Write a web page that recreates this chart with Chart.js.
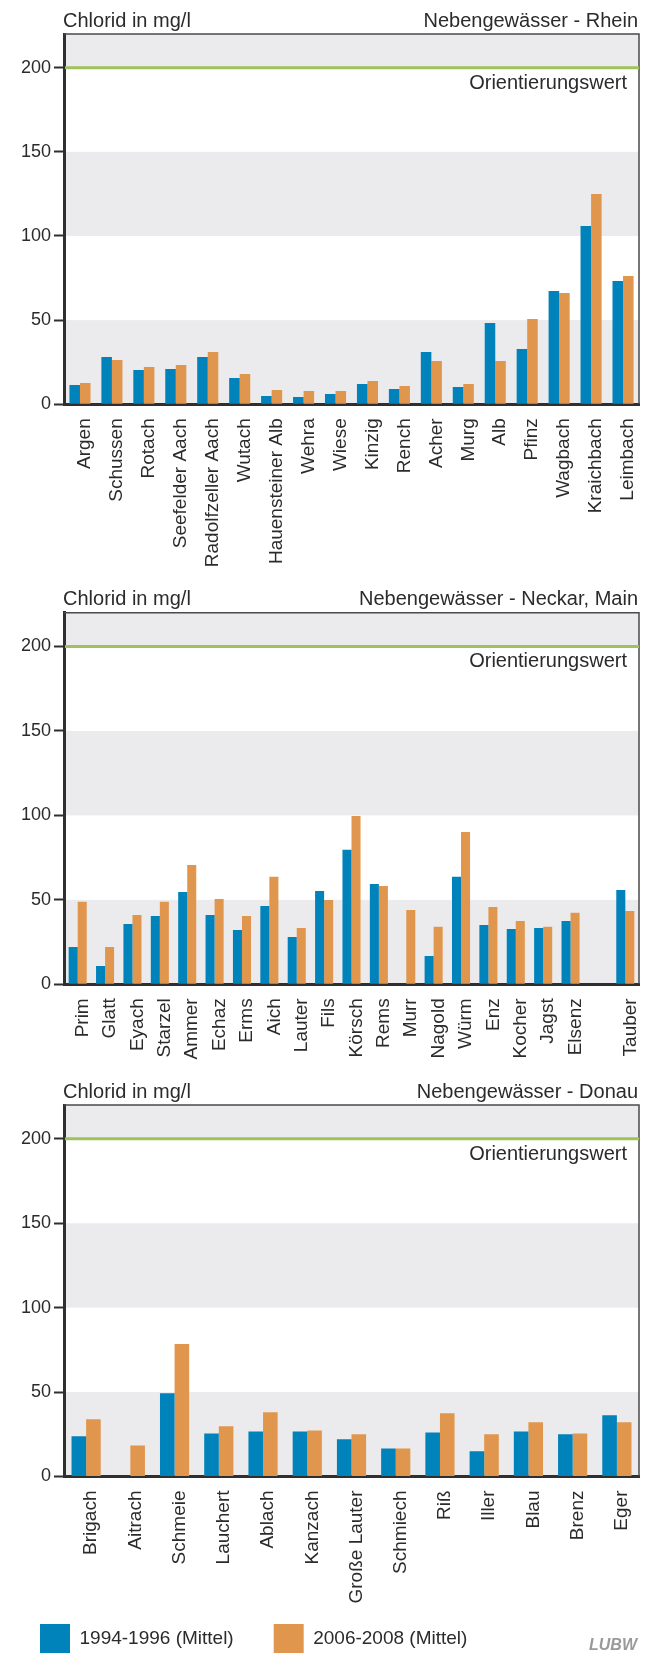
<!DOCTYPE html>
<html><head><meta charset="utf-8">
<script src="https://cdn.jsdelivr.net/npm/chart.js@4.4.1/dist/chart.umd.min.js"></script>
<style>
html,body{margin:0;padding:0;background:#fff;overflow:hidden;width:648px;height:1655px;}
.wrap{position:absolute;left:0;width:648px;}
</style></head><body>
<div class="wrap" style="top:0;height:575px"><canvas id="c1"></canvas></div>
<div class="wrap" style="top:575px;height:495px"><canvas id="c2"></canvas></div>
<div class="wrap" style="top:1070px;height:593px"><canvas id="c3"></canvas></div>
<script>
// ---- data ----
const yTicks = [0, 50, 100, 150, 200];
const yMax = 220;
const orientierungswert = 200;
const bandRanges = [[0, 50], [100, 150], [200, 220]];
const seriesNames = ['1994-1996 (Mittel)', '2006-2008 (Mittel)'];
const axisTitle = 'Chlorid in mg/l';

const rheinLabels = ['Argen','Schussen','Rotach','Seefelder Aach','Radolfzeller Aach','Wutach','Hauensteiner Alb','Wehra','Wiese','Kinzig','Rench','Acher','Murg','Alb','Pfinz','Wagbach','Kraichbach','Leimbach'];
const rhein9496 = [11.5, 28.1, 20.4, 21.0, 28.1, 15.6, 5.0, 4.4, 6.1, 12.1, 9.1, 31.1, 10.3, 48.3, 32.9, 67.3, 105.9, 73.3];
const rhein0608 = [12.7, 26.3, 22.2, 23.4, 31.1, 18.0, 8.5, 7.9, 7.9, 13.9, 10.9, 25.7, 12.1, 25.7, 50.7, 66.1, 125.0, 76.2];

const neckarLabels = ['Prim','Glatt','Eyach','Starzel','Ammer','Echaz','Erms','Aich','Lauter','Fils','Körsch','Rems','Murr','Nagold','Würm','Enz','Kocher','Jagst','Elsenz','','Tauber'];
const neckar9496 = [22.1, 10.9, 35.7, 40.5, 54.7, 41.1, 32.2, 46.4, 28.0, 55.3, 79.6, 59.4, null, 16.8, 63.6, 35.1, 32.8, 33.4, 37.5, null, 55.9];
const neckar0608 = [48.8, 22.1, 41.1, 48.8, 70.7, 50.5, 40.5, 63.6, 33.4, 49.9, 99.7, 58.2, 44.0, 34.0, 90.2, 45.8, 37.5, 34.0, 42.3, null, 43.4];

const donauLabels = ['Brigach','Aitrach','Schmeie','Lauchert','Ablach','Kanzach','Große Lauter','Schmiech','Riß','Iller','Blau','Brenz','Eger'];
const donau9496 = [23.8, null, 49.3, 25.5, 26.7, 26.7, 22.0, 16.6, 26.1, 14.9, 26.7, 25.0, 36.2];
const donau0608 = [33.9, 18.4, 78.4, 29.7, 38.0, 27.3, 25.0, 16.6, 37.4, 25.0, 32.1, 25.5, 32.1];

// ---- styles ----
const FONT = '"Liberation Sans", Arial, Helvetica, sans-serif';
const TEXT = '#2b2b2b';
const AXIS = '#2f2f2f';
const BLUE = '#0082bb';
const ORANGE = '#e1964d';
const BAND = '#ebebed';
const GREEN = '#9fc25a';

function decor(rightTitle) {
  return {
    id: 'decor',
    beforeDraw(chart) {
      const {ctx, chartArea: a, scales: {y}} = chart;
      ctx.save();
      ctx.fillStyle = BAND;
      bandRanges.forEach(([lo, hi]) => {
        const t = y.getPixelForValue(hi), b = y.getPixelForValue(lo);
        ctx.fillRect(a.left, t, a.right - a.left, b - t);
      });
      ctx.restore();
    },
    afterDraw(chart) {
      const {ctx, chartArea: a, scales: {y}} = chart;
      ctx.save();
      ctx.strokeStyle = '#4a4a4a'; ctx.lineWidth = 1.5;
      ctx.beginPath(); ctx.moveTo(a.left, a.top); ctx.lineTo(a.right, a.top); ctx.lineTo(a.right, a.bottom); ctx.stroke();
      const gy = y.getPixelForValue(orientierungswert);
      ctx.strokeStyle = GREEN; ctx.lineWidth = 3;
      ctx.beginPath(); ctx.moveTo(a.left + 1, gy); ctx.lineTo(a.right, gy); ctx.stroke();
      ctx.fillStyle = TEXT; ctx.font = '20px ' + FONT; ctx.textBaseline = 'alphabetic';
      ctx.textAlign = 'right';
      ctx.fillText('Orientierungswert', a.right - 12, gy + 21);
      ctx.textAlign = 'left';
      ctx.fillText(axisTitle, a.left - 1, a.top - 7.5);
      ctx.textAlign = 'right';
      ctx.fillText(rightTitle, a.right - 1, a.top - 7.5);
      ctx.restore();
    }
  };
}

const logo = {
  id: 'logo',
  afterDraw(chart) {
    const ctx = chart.ctx;
    ctx.save();
    ctx.fillStyle = '#9a9a9a';
    ctx.font = 'italic bold 16px ' + FONT;
    ctx.textAlign = 'right'; ctx.textBaseline = 'alphabetic';
    ctx.fillText('LUBW', 637, 580);
    ctx.restore();
  }
};

function makeChart(id, labels, a, b, rightTitle, padTop, xHeight, withLegend) {
  return new Chart(document.getElementById(id), {
    type: 'bar',
    data: {
      labels: labels,
      datasets: [
        {label: seriesNames[0], data: a, backgroundColor: BLUE, borderWidth: 0, categoryPercentage: 0.66, barPercentage: 1},
        {label: seriesNames[1], data: b, backgroundColor: ORANGE, borderWidth: 0, categoryPercentage: 0.66, barPercentage: 1}
      ]
    },
    options: {
      responsive: true, maintainAspectRatio: false, animation: false,
      layout: {padding: {top: padTop, right: 9, left: 0, bottom: 0}},
      plugins: {
        tooltip: {enabled: false},
        title: {display: false},
        legend: withLegend ? {
          display: true, position: 'bottom', align: 'start',
          labels: {boxWidth: 30, boxHeight: 29, padding: 40, color: TEXT, font: {family: FONT, size: 19}}
        } : {display: false}
      },
      scales: {
        x: {
          z: 1,
          grid: {display: false, drawTicks: false},
          border: {display: true, color: AXIS, width: 3},
          ticks: {autoSkip: false, minRotation: 90, maxRotation: 90, padding: 14, labelOffset: 5, color: TEXT, font: {family: FONT, size: 19}},
          afterFit(s) {
            s.height = xHeight;
            s.paddingLeft = 0; s.paddingRight = 0;
            s._computeLabelArea = () => undefined;
          }
        },
        y: {
          z: 1,
          min: 0, max: yMax,
          grid: {display: true, drawOnChartArea: false, drawTicks: true, tickLength: 10, tickWidth: 2, tickColor: AXIS},
          border: {display: true, color: AXIS, width: 3},
          ticks: {padding: 3, color: TEXT, font: {family: FONT, size: 18}},
          afterBuildTicks(s) { s.ticks = yTicks.map(v => ({value: v})); },
          afterFit(s) { s.width = 64; s.paddingTop = 0; s.paddingBottom = 0; }
        }
      }
    },
    plugins: withLegend ? [decor(rightTitle), logo] : [decor(rightTitle)]
  });
}

makeChart('c1', rheinLabels, rhein9496, rhein0608, 'Nebengewässer - Rhein', 34, 170.7, false);
makeChart('c2', neckarLabels, neckar9496, neckar0608, 'Nebengewässer - Neckar, Main', 37.7, 85.7, false);
makeChart('c3', donauLabels, donau9496, donau0608, 'Nebengewässer - Donau', 35, 107.5, true);
</script>
</body></html>
